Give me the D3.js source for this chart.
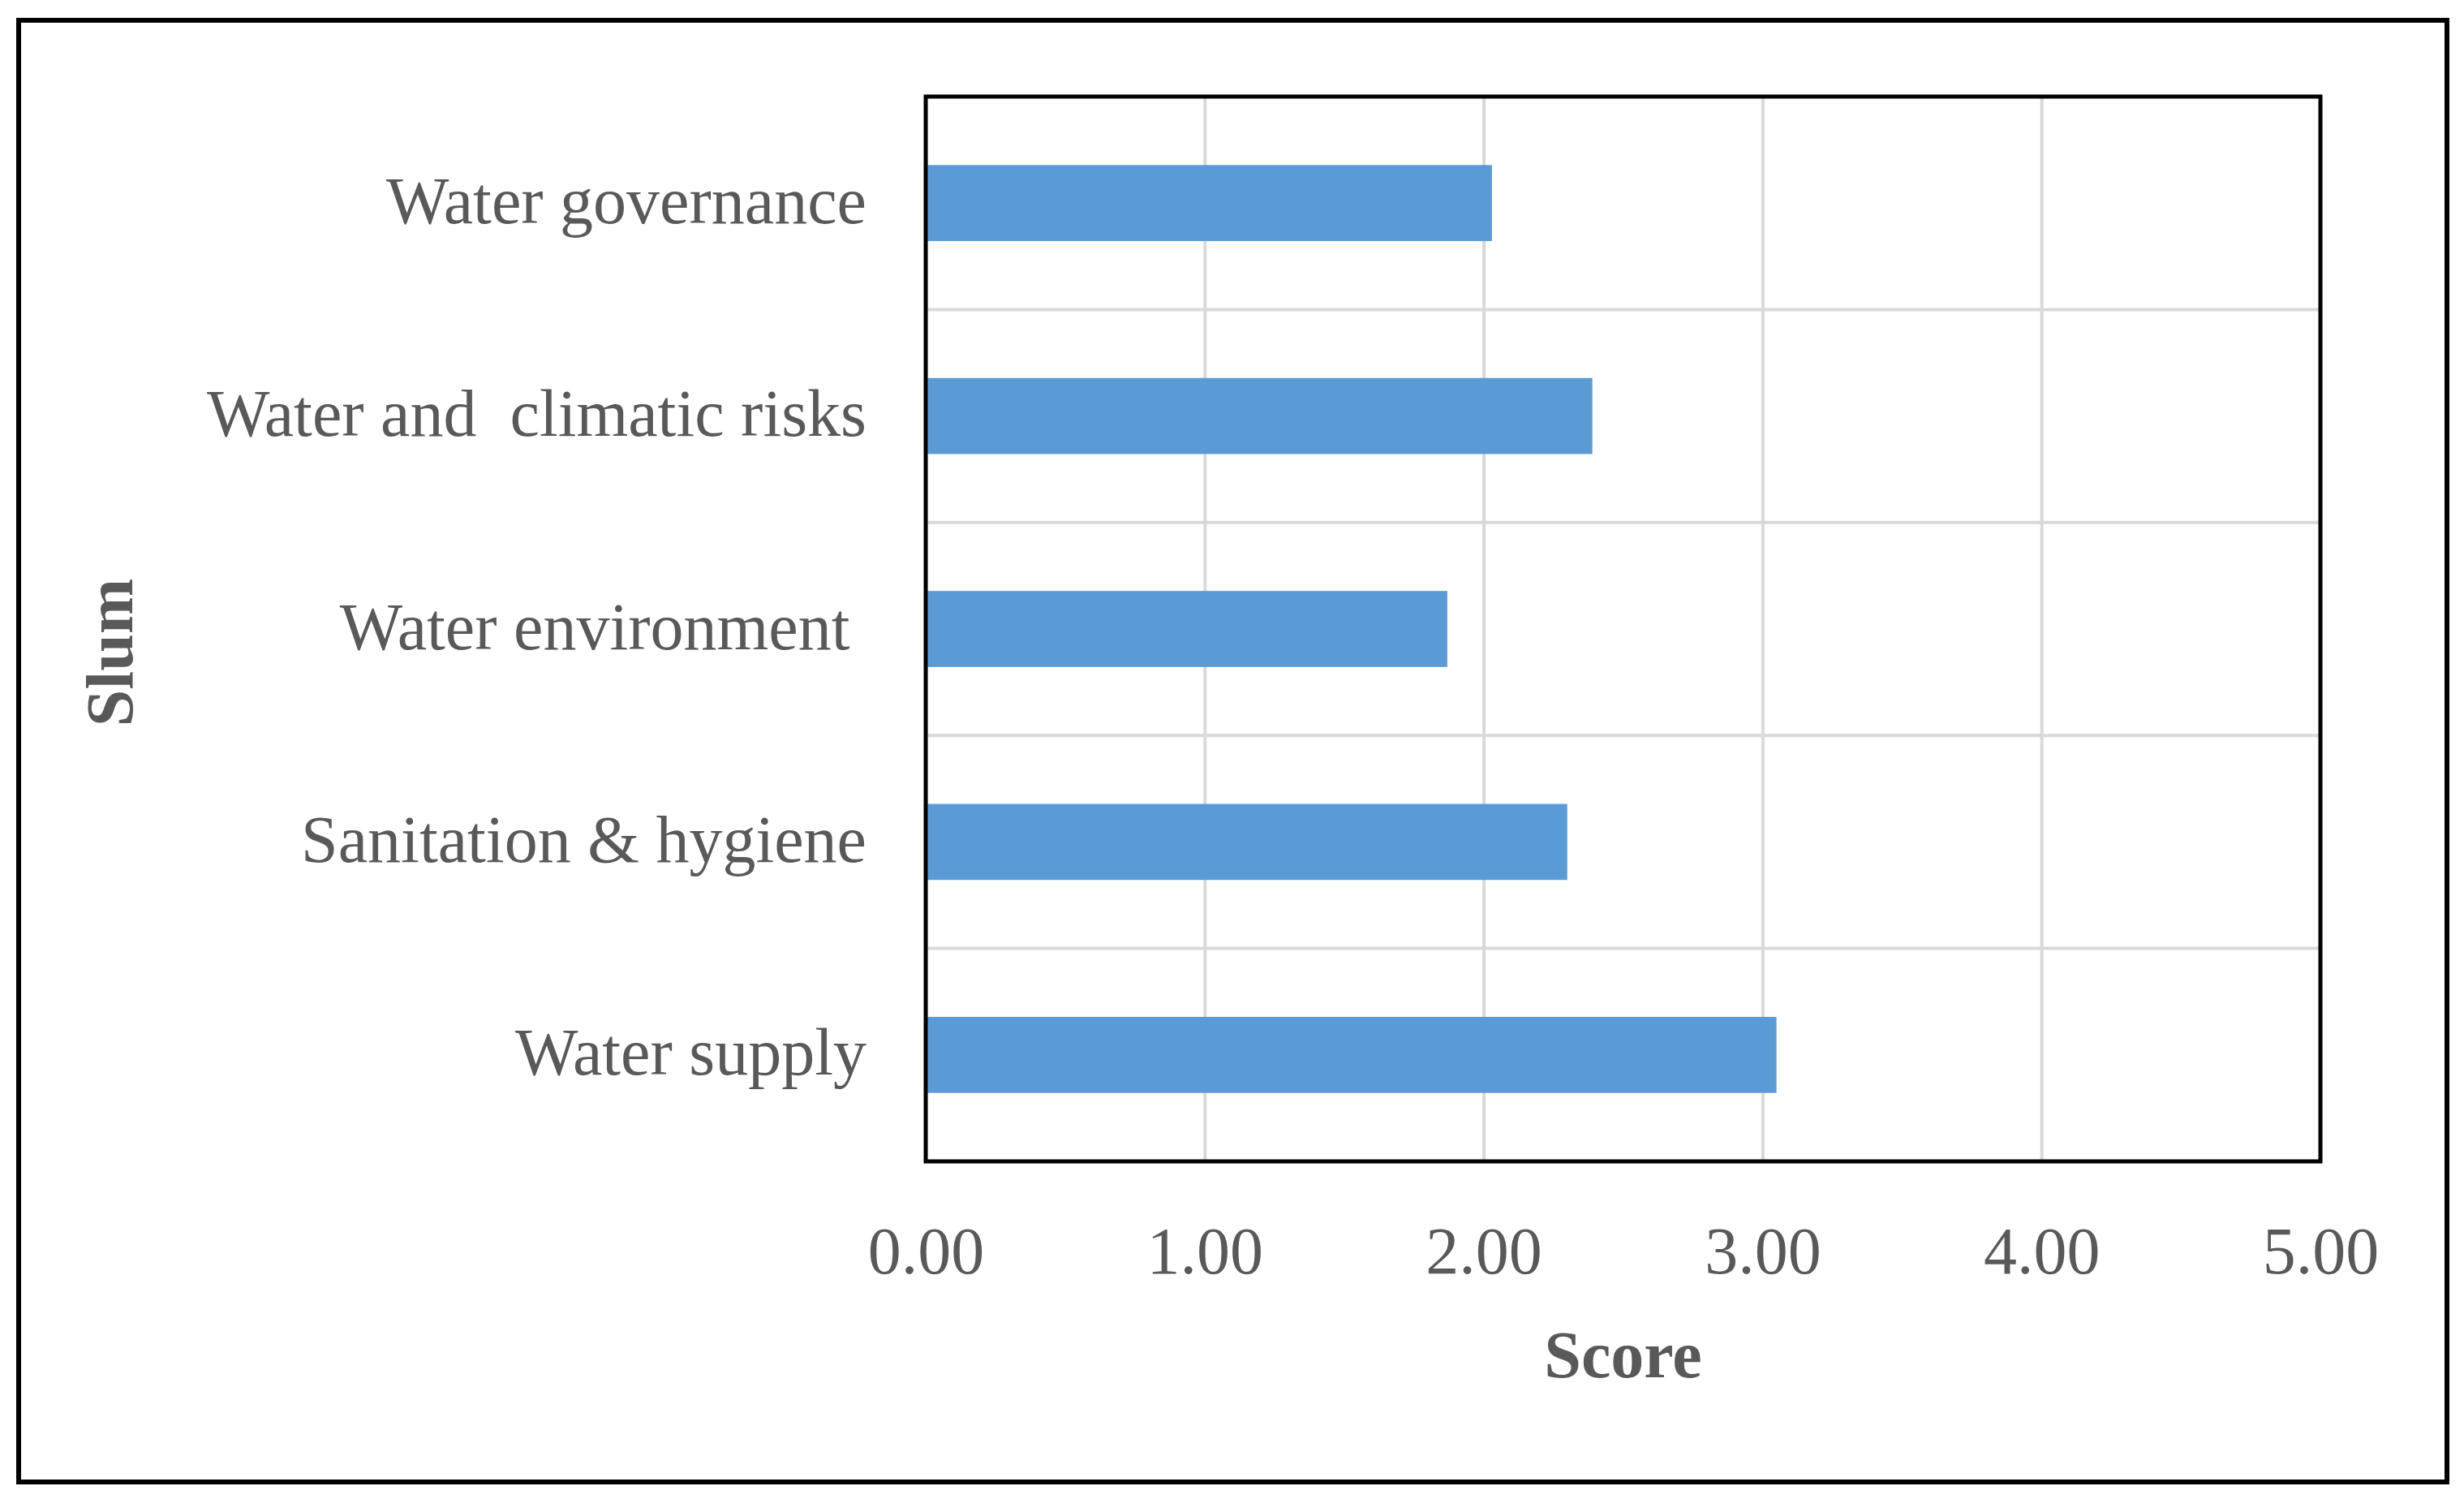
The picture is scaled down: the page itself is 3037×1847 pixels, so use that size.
<!DOCTYPE html>
<html>
<head>
<meta charset="utf-8">
<script src="https://cdn.jsdelivr.net/npm/d3@7"></script>
<style>
  body { margin: 0; background: #fff; }
  text { font-family: "Liberation Serif", "Times New Roman", serif; fill: #595959; }
</style>
</head>
<body>
<script>
'use strict';

// categories listed top to bottom as they appear in the chart
var categories = ["Water governance", "Water and  climatic risks", "Water environment ", "Sanitation & hygiene", "Water supply"];
var scores = [2.03, 2.39, 1.87, 2.30, 3.05];
var xTicks = [0, 1, 2, 3, 4, 5];
var xTitle = "Score";
var yTitle = "Slum";

var data = categories.map(function(c, i) { return {cat: c, val: scores[i]}; });

var W = 3037, H = 1847;
var margin = {top: 119, left: 1141, right: W - 2860, bottom: H - 1431},
    width = W - margin.left - margin.right,
    height = H - margin.top - margin.bottom;

var svg = d3.select("body").append("svg")
    .attr("width", W)
    .attr("height", H);

// outer frame
svg.append("rect")
    .attr("x", 23).attr("y", 25)
    .attr("width", 3016 - 23).attr("height", 1826 - 25)
    .attr("fill", "none").attr("stroke", "#000").attr("stroke-width", 6);

var g = svg.append("g")
    .attr("transform", "translate(" + margin.left + "," + margin.top + ")");

var xScale = d3.scaleLinear().domain([0, 5]).range([0, width]);

var yScale = d3.scaleBand()
    .domain(categories)
    .range([0, height])
    .paddingInner(0.643)
    .paddingOuter(0.3215);

// vertical gridlines
g.append("g")
    .attr("class", "grid")
    .call(d3.axisBottom(xScale).tickValues(xTicks).tickSize(height).tickFormat(""))
    .call(function(s) {
        s.select(".domain").remove();
        s.selectAll("line").attr("stroke", "#d9d9d9").attr("stroke-width", 4);
    });

// horizontal gridlines between categories
g.selectAll("line.hgrid")
    .data(categories.slice(1))
    .enter().append("line")
    .attr("class", "hgrid")
    .attr("x1", 0).attr("x2", width)
    .attr("y1", function(d) { return yScale(d) - yScale.step() * yScale.paddingInner() / 2; })
    .attr("y2", function(d) { return yScale(d) - yScale.step() * yScale.paddingInner() / 2; })
    .attr("stroke", "#d9d9d9").attr("stroke-width", 4);

// bars
g.selectAll("rect.bar")
    .data(data)
    .enter().append("rect")
    .attr("class", "bar")
    .attr("x", 0)
    .attr("y", function(d) { return yScale(d.cat); })
    .attr("width", function(d) { return xScale(d.val); })
    .attr("height", yScale.bandwidth())
    .attr("fill", "#5b9bd5");

// plot border
g.append("rect")
    .attr("x", 0).attr("y", 0)
    .attr("width", width).attr("height", height)
    .attr("fill", "none").attr("stroke", "#000").attr("stroke-width", 5);

// x tick labels
g.append("g")
    .attr("transform", "translate(0," + height + ")")
    .call(d3.axisBottom(xScale).tickValues(xTicks).tickSize(0).tickPadding(80).tickFormat(d3.format(".2f")))
    .call(function(s) {
        s.select(".domain").remove();
        s.selectAll("text").attr("font-size", 82).attr("fill", "#595959")
            .style("font-family", "Liberation Serif").attr("dy", "0.71em");
    });

// category labels
g.selectAll("text.cat")
    .data(data)
    .enter().append("text")
    .attr("class", "cat")
    .attr("x", -73)
    .attr("y", function(d) { return yScale(d.cat) + yScale.bandwidth() / 2; })
    .attr("dy", "0.3em")
    .attr("text-anchor", "end")
    .attr("font-size", 82)
    .style("white-space", "pre")
    .text(function(d) { return d.cat; });

// axis titles
svg.append("text")
    .attr("x", margin.left + width / 2)
    .attr("y", 1697)
    .attr("text-anchor", "middle")
    .attr("font-size", 82)
    .attr("font-weight", "bold")
    .text(xTitle);

svg.append("text")
    .attr("transform", "translate(163,804) rotate(-90)")
    .attr("text-anchor", "middle")
    .attr("font-size", 82)
    .attr("font-weight", "bold")
    .text(yTitle);
</script>
</body>
</html>
